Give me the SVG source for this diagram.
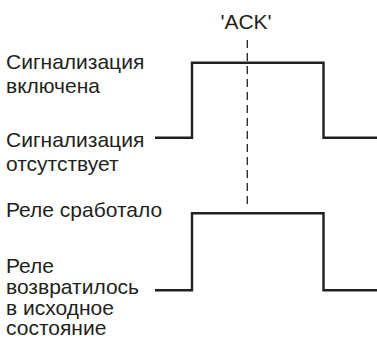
<svg xmlns="http://www.w3.org/2000/svg" width="377" height="341" viewBox="0 0 377 341">
<style>
text{font-family:"Liberation Sans",Arial,sans-serif;font-size:21px;fill:#231f20}
.sig{fill:none;stroke:#231f20;stroke-width:2.4;stroke-linejoin:miter}
.ack{fill:none;stroke:#231f20;stroke-width:1.3;stroke-dasharray:8 5}
</style>
<rect width="377" height="341" fill="#ffffff"/>
<g id="label-ack"><text x="246" y="29" text-anchor="middle">'ACK'</text></g>
<g id="label-alarm-on"><text x="6" y="69">Сигнализация</text><text x="6" y="93">включена</text></g>
<g id="label-alarm-off"><text x="6" y="146.5">Сигнализация</text><text x="6" y="170.7">отсутствует</text></g>
<g id="label-relay-on"><text x="6" y="217">Реле сработало</text></g>
<g id="label-relay-off"><text x="6" y="273.3">Реле</text><text x="6" y="294">возвратилось</text><text x="6" y="314.7">в исходное</text><text x="6" y="335.3">состояние</text></g>
<g id="connectors">
<polyline id="alarm-signal" class="sig" points="155,137.8 192,137.8 192,62.8 323.5,62.8 323.5,137.8 377,137.8"/>
<polyline id="relay-signal" class="sig" points="155,290.3 192,290.3 192,213.3 323.5,213.3 323.5,290.3 377,290.3"/>
<line id="ack-line" class="ack" x1="247.3" y1="40" x2="247.3" y2="208"/>
</g>
</svg>
